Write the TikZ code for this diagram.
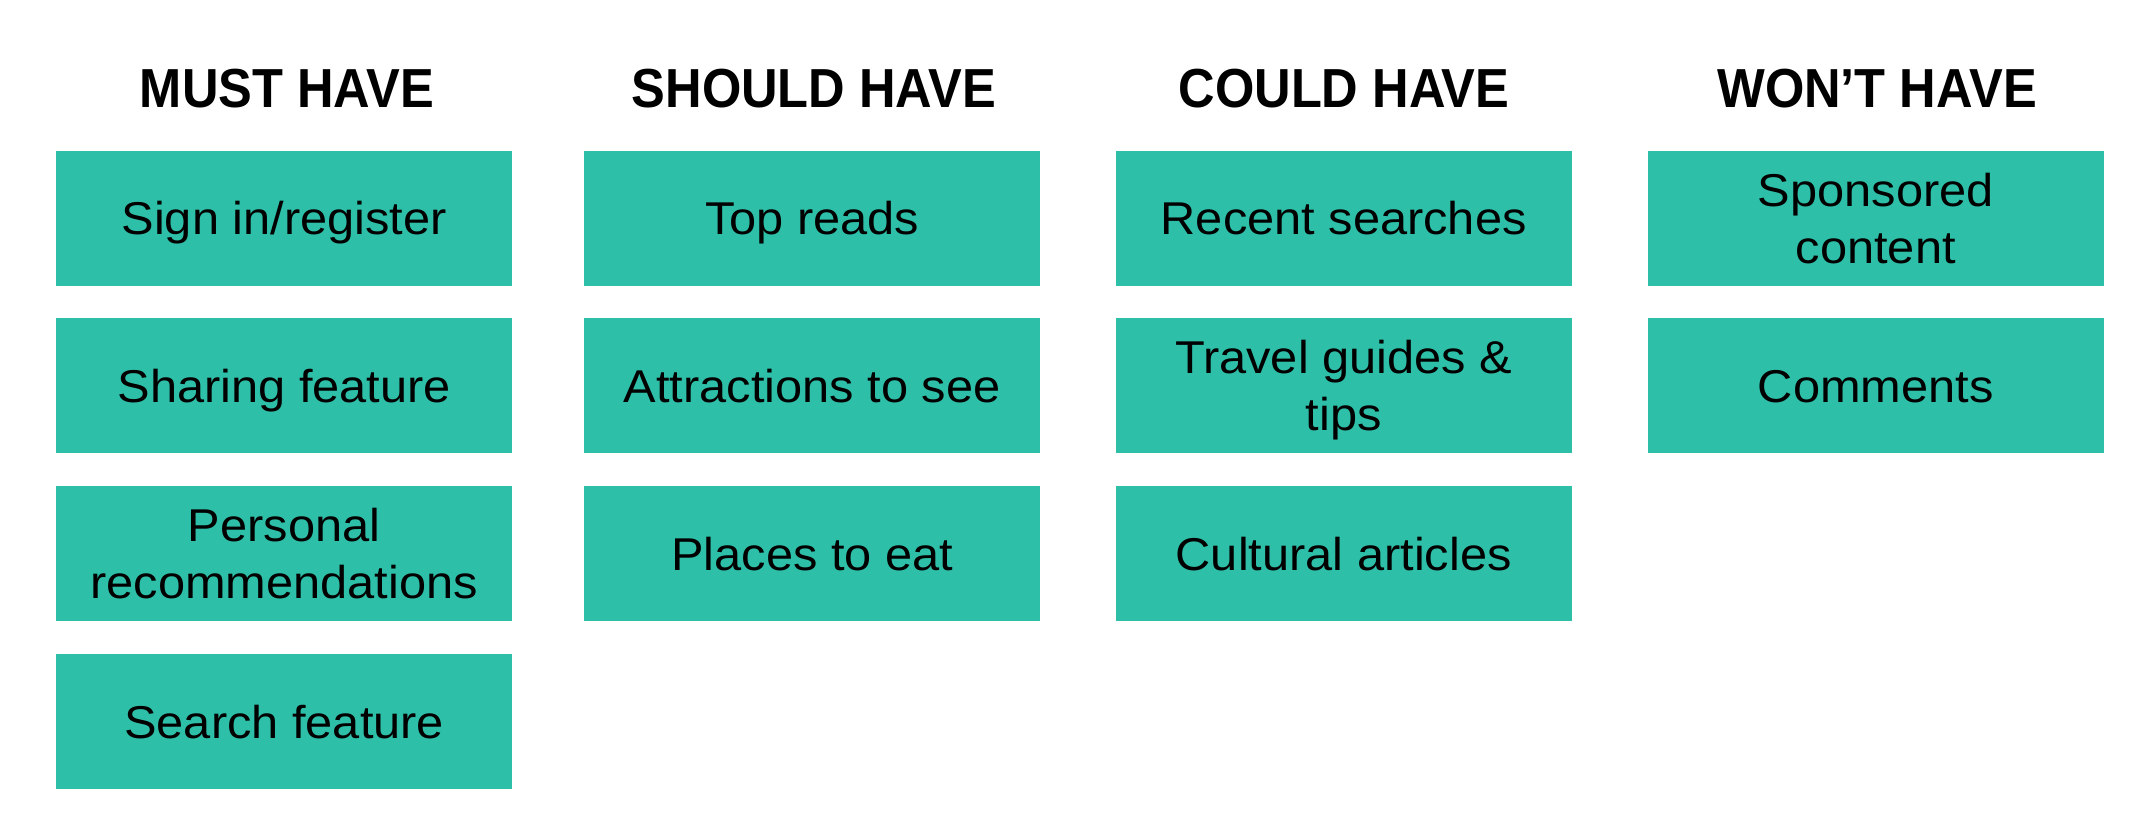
\documentclass[tikz,border=0pt]{standalone}
\usepackage{fontspec}
\setmainfont{Liberation Sans}
\newfontfamily\headfont[FakeStretch=0.92]{Liberation Sans}
\newfontfamily\bodyfont[FakeStretch=1.06]{Liberation Sans}
\definecolor{teal}{HTML}{2EBFA9}
\begin{document}
\begin{tikzpicture}[x=1pt,y=-1pt,
  card/.style={fill=teal, draw=none, minimum width=456pt, minimum height=135pt, inner sep=0pt, anchor=north west},
  lbl/.style={font=\bodyfont\fontsize{46}{57}\selectfont, align=center, inner sep=0pt, text height=32.9pt, text depth=0pt, anchor=center},
  lbltwo/.style={lbl, text height=89.9pt},
  head/.style={font=\headfont\bfseries\fontsize{55}{66}\selectfont, anchor=base, inner sep=0pt}]
\useasboundingbox (0,0) rectangle (2150,838);
% column x: 56, 584, 1115.5, 1647.5 ; rows y: 150.5, 318, 486, 654
\node[head] (h1) at (287,107) {MUST HAVE};
\node[head] (h2) at (814,107) {SHOULD HAVE};
\node[head] (h3) at (1344,107) {COULD HAVE};
\node[head] (h4) at (1877,107) {WON’T HAVE};

\node[card] (m1) at (56,150.5) {};
\node[card] (m2) at (56,318) {};
\node[card] (m3) at (56,486) {};
\node[card] (m4) at (56,654) {};
\node[card] (s1) at (584,150.5) {};
\node[card] (s2) at (584,318) {};
\node[card] (s3) at (584,486) {};
\node[card] (c1) at (1115.5,150.5) {};
\node[card] (c2) at (1115.5,318) {};
\node[card] (c3) at (1115.5,486) {};
\node[card] (w1) at (1647.5,150.5) {};
\node[card] (w2) at (1647.5,318) {};

\node[lbl] (tm1) at (m1.center) {Sign in/register};
\node[lbl] (tm2) at (m2.center) {Sharing feature};
\node[lbltwo] (tm3) at (m3.center) {Personal\\recommendations};
\node[lbl] (tm4) at (m4.center) {Search feature};
\node[lbl] (ts1) at (s1.center) {Top reads};
\node[lbl] (ts2) at (s2.center) {Attractions to see};
\node[lbl] (ts3) at (s3.center) {Places to eat};
\node[lbl] (tc1) at (c1.center) {Recent searches};
\node[lbltwo] (tc2) at (c2.center) {Travel guides \&\\tips};
\node[lbl] (tc3) at (c3.center) {Cultural articles};
\node[lbltwo] (tw1) at (w1.center) {Sponsored\\content};
\node[lbl] (tw2) at (w2.center) {Comments};
\end{tikzpicture}
\end{document}
